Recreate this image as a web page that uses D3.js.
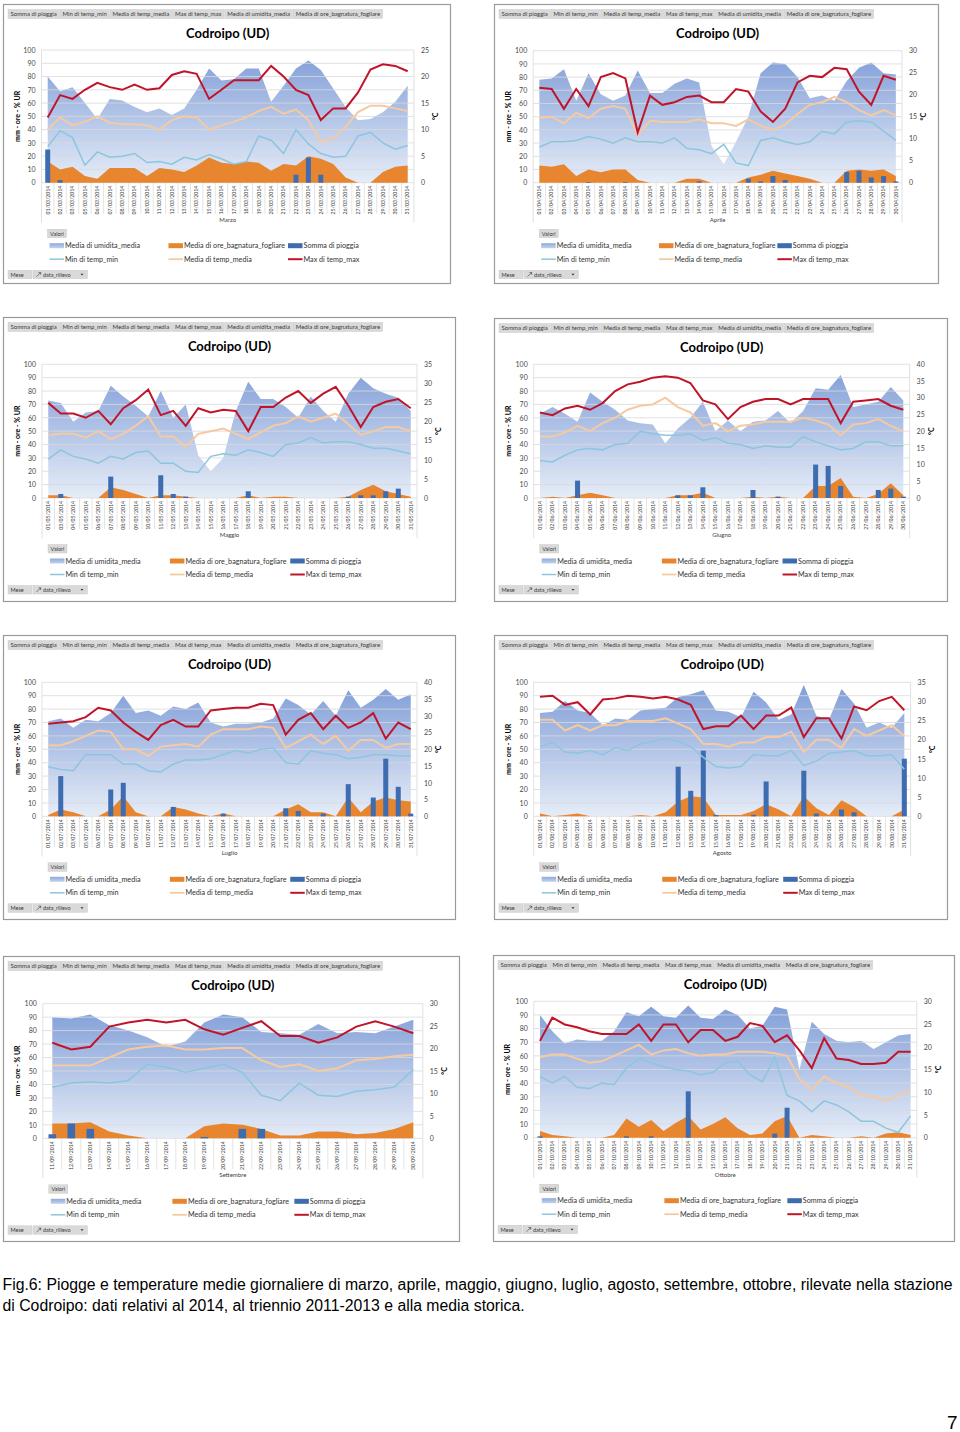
<!DOCTYPE html>
<html><head><meta charset="utf-8">
<script src="https://cdn.jsdelivr.net/npm/d3@7"></script>
<style>
body{margin:0;background:#fff;}
svg{display:block;}
</style></head><body>
<svg id="c" width="960" height="1432"></svg>
<script>
// ---------------- DATA ----------------
const campiPivot = ["Somma di pioggia","Min di temp_min","Media di temp_media","Max di temp_max","Media di umidita_media","Media di ore_bagnatura_fogliare"];
const tickSinistra = [0,10,20,30,40,50,60,70,80,90,100];
const titolo = "Codroipo (UD)";
const titoloAsseSx = "mm - ore - % UR";
const titoloAsseDx = "°C";

// Marzo
const giorniMarzo = ["01","02","03","05","06","07","08","09","10","11","12","13","14","15","16","17","18","19","20","21","22","23","24","25","26","27","28","29","30","31"];
const umiditaMarzo = [80,69,72,60,48,63,62,57,53,56,51,56,70,86,77,78,86,86,61,73,86,92,85,71,57,47,48,53,61,73];
const oreBagnMarzo = [16,10,12,5,3,11,11,11,5,11,10,8,13,19,15,14,16,15,9,14,13,20,18,14,4,0,0,8,12,13];
const pioggiaMarzo = [25,2,0,0,0,0,0,0,0,0,0,0,0,0,0,0,0,0,0,0,6,19,6,0,0,0,0,0,0,0];
const tminMarzo = [6.8,9.8,8.5,3.3,5.8,4.8,5.0,5.5,3.8,4.0,3.5,4.8,4.3,5.3,4.5,3.5,4.0,8.8,8.0,5.5,10.0,7.3,5.5,4.8,5.0,8.8,9.5,7.5,6.3,7.0];
const tmedMarzo = [10.0,12.3,10.8,11.5,12.5,11.3,11.0,11.0,10.8,10.0,11.8,12.5,12.3,10.0,10.8,11.5,12.3,13.5,14.3,13.0,13.8,11.8,7.8,8.3,10.5,13.3,14.5,14.5,14.0,13.5];
const tmaxMarzo = [12.3,16.5,15.8,17.5,18.8,18.0,17.5,18.5,17.5,17.8,20.3,21.0,20.5,15.8,17.5,19.3,19.3,19.3,22.0,20.0,17.5,16.5,11.8,14.0,14.0,17.0,21.3,22.3,22.0,21.0];
const tickDxMarzo = [0,5,10,15,20,25];

// Aprile
const giorniAprile = ["01","02","03","04","05","06","07","08","09","10","11","12","13","14","15","16","17","18","19","20","21","22","23","24","25","26","27","28","29","30"];
const umiditaAprile = [78,79,86,62,83,67,62,66,85,68,68,75,79,76,28,14,31,50,83,91,90,80,64,66,62,77,87,91,83,82];
const oreBagnAprile = [13,12,14,5,10,8,10,10,2,0,0,0,3,3,0,0,0,4,6,9,7,5,3,0,0,9,10,9,10,5];
const pioggiaAprile = [0,0,0,0,0.5,0,0,0.5,0,0,0,0,0,1,0,0,0,3,1,5,2,0,0,0,0,8,9,4,5,1];
const tminAprile = [8.1,9.3,9.3,9.6,10.5,9.9,9.0,10.2,9.3,9.3,9.0,10.2,7.8,7.5,6.6,8.7,4.5,3.9,9.6,10.2,9.3,8.7,9.3,11.7,11.1,13.8,14.1,13.8,11.7,9.6];
const tmedAprile = [14.7,15.0,13.5,15.9,14.7,16.8,17.4,16.8,10.8,14.1,13.8,13.8,13.8,14.4,13.5,13.5,12.9,14.4,12.9,12.0,13.2,15.6,17.7,18.3,19.5,18.3,16.5,15.3,16.5,15.3];
const tmaxAprile = [21.6,21.3,16.8,21.3,17.4,24.0,24.9,23.7,11.4,19.8,17.7,18.3,19.5,19.8,18.3,18.3,21.3,20.7,16.2,13.8,16.8,22.8,24.3,24.0,26.1,25.8,20.7,17.7,24.3,23.4];
const tickDxAprile = [0,5,10,15,20,25,30];

// Maggio
const giorniMaggio = ["01","03","04","05","06","07","08","09","10","11","12","13","14","15","16","17","18","19","20","21","22","23","24","25","26","27","28","29","30","31"];
const umiditaMaggio = [73,71,57,64,65,84,76,69,61,80,60,70,32,20,30,65,87,74,74,68,60,76,65,57,78,90,82,78,75,65];
const oreBagnMaggio = [2,2,0,0,0,8,6,3,0,2,2,1,0,0,0,0,2,0,1,1,0,0,0,0,1,6,10,5,3,1];
const pioggiaMaggio = [0,3,0,0,0,16,0,0,0,17,3,1,0,0,0,0,5,0,0,0,0,0,0,0,1,2,2,5,7,0];
const tminMaggio = [10.2,12.6,10.9,10.2,9.1,10.9,10.2,11.9,12.3,9.1,9.1,7.0,6.7,10.9,11.6,11.2,12.6,11.9,10.9,14.0,14.4,15.8,14.4,14.7,14.7,14.0,13.0,13.0,12.3,11.6];
const tmedMaggio = [16.5,16.8,16.8,15.8,17.5,15.4,16.8,18.9,21.4,16.1,16.1,13.3,16.8,17.5,18.2,16.8,15.4,17.2,18.9,19.6,21.4,20.0,21.0,22.1,19.3,16.5,17.5,18.6,18.6,17.5];
const tmaxMaggio = [24.9,22.1,22.1,21.0,22.8,19.3,23.5,25.6,28.4,21.7,22.8,18.9,23.5,22.4,23.1,22.8,17.5,23.8,23.8,26.3,28.0,24.9,27.3,29.1,24.2,18.6,23.8,25.2,25.9,23.5];
const tickDxMaggio = [0,5,10,15,20,25,30,35];

// Giugno
const giorniGiugno = ["01","02","03","04","05","06","07","08","09","10","11","12","13","14","15","16","17","18","19","20","21","22","23","24","25","26","27","28","29","30"];
const umiditaGiugno = [63,68,63,57,79,72,66,58,56,55,41,52,60,72,50,58,50,57,58,65,56,65,82,81,92,68,70,72,83,73];
const oreBagnGiugno = [0,1,0,2,4,2,0,0,0,0,0,2,2,4,0,0,0,1,0,1,0,0,9,9,15,1,0,3,11,2];
const pioggiaGiugno = [0,0,0,13,0,0,0,0,0,0,0,2,2,8,0,0,0,6,0,1,0,0,25,24,9,0,0,6,7,1];
const tminGiugno = [11.2,10.8,12.8,14.4,14.8,14.4,16.0,16.4,20.0,19.2,18.8,18.8,19.2,17.2,18.0,16.4,16.0,14.8,15.6,15.2,15.2,18.4,16.8,15.6,14.4,14.8,16.8,16.8,15.6,15.6];
const tmedGiugno = [18.4,18.4,19.6,21.6,20.0,22.4,24.0,26.4,27.6,28.0,30.0,27.2,25.6,21.6,22.4,20.0,21.6,22.0,22.8,22.8,22.8,24.0,23.2,22.0,18.8,22.0,22.4,23.6,21.6,20.0];
const tmaxGiugno = [25.6,24.8,26.8,27.6,26.4,28.4,32.0,34.0,34.8,36.0,36.4,36.0,34.4,29.2,28.0,23.6,27.2,28.8,29.6,29.6,28.0,29.6,29.6,29.6,22.4,28.8,29.2,29.6,27.6,26.4];
const tickDxGiugno = [0,5,10,15,20,25,30,35,40];

// Luglio
const giorniLuglio = ["01","02","03","05","06","07","08","09","10","11","12","13","14","15","16","17","18","19","20","21","22","23","24","25","26","27","28","29","30","31"];
const umiditaLuglio = [71,73,66,72,71,77,90,77,79,75,82,80,85,70,67,69,69,70,73,88,83,76,86,75,94,81,87,95,87,91];
const oreBagnLuglio = [1,5,3,0,0,5,15,3,0,0,7,5,2,0,2,0,0,0,0,5,9,3,3,0,14,3,11,14,12,11];
const pioggiaLuglio = [0,30,0,0,0,20,25,0,0,0,7,0,0,0,2,0,0,0,0,6,4,0,2,0,24,0,14,43,22,2];
const tminLuglio = [14.8,14.0,13.6,18.4,18.4,18.4,15.6,15.6,13.6,13.2,15.6,16.8,16.8,17.2,18.4,19.6,18.8,20.0,20.4,16.0,15.6,19.6,18.8,18.4,17.2,17.6,18.4,18.4,18.0,18.0];
const tmedLuglio = [21.2,21.2,22.4,24.0,25.6,25.2,20.0,20.0,18.0,20.8,21.2,21.6,20.8,24.4,26.0,26.0,26.0,26.8,26.4,20.4,22.4,24.4,21.6,24.0,19.6,22.8,22.8,20.4,21.6,21.6];
const tmaxLuglio = [27.6,28.0,28.4,29.6,32.4,31.6,28.0,25.2,22.8,27.2,28.8,26.8,26.8,31.6,32.0,32.4,32.4,33.6,33.2,24.4,28.8,30.8,26.0,30.0,26.4,28.0,30.8,23.2,28.0,26.0];
const tickDxLuglio = [0,5,10,15,20,25,30,35,40];

// Agosto
const giorniAgosto = ["01","02","03","04","05","06","07","08","09","10","11","12","13","14","15","16","17","19","20","21","22","23","24","25","26","27","28","29","30","31"];
const umiditaAgosto = [77,78,86,79,77,68,73,72,79,80,81,89,91,94,79,78,74,93,85,72,76,98,75,72,95,84,66,70,66,77];
const oreBagnAgosto = [2,0,1,2,0,0,0,0,1,0,3,11,15,14,1,1,1,4,9,5,0,15,6,1,12,7,0,0,0,5];
const pioggiaAgosto = [0,0,0,0,0,0,0,0,0,0,0,37,19,49,1,0,0,1,26,0,0,34,2,0,5,3,0,0,0,43];
const tminAgosto = [18.2,19.3,16.8,16.5,17.2,16.1,17.9,17.2,18.9,19.6,20.3,19.6,18.2,15.4,13.0,12.6,13.0,16.1,15.8,15.8,17.2,13.3,14.4,16.5,16.8,17.2,15.8,15.8,16.1,12.3];
const tmedAgosto = [25.2,25.2,22.4,23.8,22.4,23.8,23.8,24.9,24.9,24.9,25.6,24.2,22.8,18.9,18.9,18.2,19.3,19.3,20.7,20.7,22.1,16.8,20.0,20.0,17.9,22.8,21.0,22.4,23.8,21.0];
const tmaxAgosto = [31.2,31.5,29.1,29.8,26.6,30.5,30.8,31.5,31.2,30.8,31.2,30.5,29.1,22.8,23.5,23.5,26.3,22.8,26.3,26.3,28.4,20.7,25.6,25.6,20.3,28.7,27.7,30.1,31.2,27.7];
const tickDxAgosto = [0,5,10,15,20,25,30,35];

// Settembre
const giorniSettembre = ["11","12","13","14","15","16","17","18","19","20","21","22","23","24","25","26","27","28","29","30"];
const umiditaSettembre = [90,89,92,84,80,75,68,72,86,92,90,79,78,77,85,78,79,78,83,88];
const oreBagnSettembre = [11,11,12,5,2,0,0,0,9,11,10,7,2,2,5,5,3,4,7,12];
const pioggiaSettembre = [3,11,7,0,0,0,0,0,1,0,7,7,0,0,0,0,0,0,0,0];
const tminSettembre = [11.4,12.3,12.6,12.3,12.9,16.5,15.9,14.7,15.6,16.5,14.7,9.6,8.4,12.3,9.6,9.3,10.5,10.8,11.4,15.3];
const tmedSettembre = [16.2,16.2,16.2,18.0,19.8,20.4,20.7,19.8,19.8,20.1,20.1,17.4,15.9,16.5,15.0,15.6,17.4,17.7,18.3,18.6];
const tmaxSettembre = [21.3,19.8,20.4,24.9,25.8,26.4,25.8,26.4,24.3,23.1,24.6,26.1,22.8,22.8,21.3,22.5,24.9,26.1,24.9,23.4];
const tickDxSettembre = [0,5,10,15,20,25,30];

// Ottobre
const giorniOttobre = ["01","02","03","04","05","06","07","08","09","10","11","12","13","14","15","16","17","18","19","20","21","22","23","24","25","26","27","28","29","30","31"];
const umiditaOttobre = [90,78,69,72,71,71,78,92,89,96,89,88,97,88,87,94,90,80,82,96,94,50,85,76,71,70,71,65,70,75,76];
const oreBagnOttobre = [5,2,1,0,0,0,2,14,8,13,5,11,16,6,10,15,7,2,3,12,16,0,2,1,0,0,1,0,3,4,2];
const pioggiaOttobre = [1,0,0,0,0,0,0,1,0,1,0,0,34,0,0,0,0,0,0,3,22,0,0,0,0,0,0,0,0,0,0];
const tminOttobre = [13.5,12.0,13.5,11.1,10.8,12.0,11.7,15.3,17.4,16.5,15.6,15.0,14.7,13.8,14.4,16.5,16.8,13.8,12.3,17.7,9.3,8.1,5.7,8.1,7.2,5.7,3.6,3.6,2.1,1.2,4.8];
const tmedOttobre = [17.7,18.3,18.3,17.4,16.5,16.8,18.0,19.2,20.4,18.3,19.2,19.5,18.6,18.0,18.3,18.3,18.9,18.9,18.9,18.6,18.0,12.9,10.5,13.5,12.0,11.1,9.3,9.0,8.1,9.3,10.5];
const tmaxOttobre = [21.3,26.4,24.9,24.3,23.4,22.8,22.8,22.8,24.9,21.3,24.9,24.9,21.0,23.7,23.7,21.3,22.2,25.2,24.6,21.0,22.5,19.2,15.3,21.9,17.4,17.1,16.2,16.2,16.5,18.9,18.9];
const tickDxOttobre = [0,5,10,15,20,25,30];

const didascalia1 = "Fig.6: Piogge e temperature medie giornaliere di marzo, aprile, maggio, giugno, luglio, agosto, settembre, ottobre, rilevate nella stazione";
const didascalia2 = "di Codroipo: dati relativi al 2014, al triennio 2011-2013 e alla media storica.";
const numeroPagina = "7";

// ---------------- BUILD ----------------
const mesi = [
  {nome:"Marzo", mm:"03", g:giorniMarzo, um:umiditaMarzo, ore:oreBagnMarzo, pio:pioggiaMarzo, tmin:tminMarzo, tmed:tmedMarzo, tmax:tmaxMarzo, tr:tickDxMarzo},
  {nome:"Aprile", mm:"04", g:giorniAprile, um:umiditaAprile, ore:oreBagnAprile, pio:pioggiaAprile, tmin:tminAprile, tmed:tmedAprile, tmax:tmaxAprile, tr:tickDxAprile},
  {nome:"Maggio", mm:"05", g:giorniMaggio, um:umiditaMaggio, ore:oreBagnMaggio, pio:pioggiaMaggio, tmin:tminMaggio, tmed:tmedMaggio, tmax:tmaxMaggio, tr:tickDxMaggio},
  {nome:"Giugno", mm:"06", g:giorniGiugno, um:umiditaGiugno, ore:oreBagnGiugno, pio:pioggiaGiugno, tmin:tminGiugno, tmed:tmedGiugno, tmax:tmaxGiugno, tr:tickDxGiugno},
  {nome:"Luglio", mm:"07", g:giorniLuglio, um:umiditaLuglio, ore:oreBagnLuglio, pio:pioggiaLuglio, tmin:tminLuglio, tmed:tmedLuglio, tmax:tmaxLuglio, tr:tickDxLuglio},
  {nome:"Agosto", mm:"08", g:giorniAgosto, um:umiditaAgosto, ore:oreBagnAgosto, pio:pioggiaAgosto, tmin:tminAgosto, tmed:tmedAgosto, tmax:tmaxAgosto, tr:tickDxAgosto},
  {nome:"Settembre", mm:"09", g:giorniSettembre, um:umiditaSettembre, ore:oreBagnSettembre, pio:pioggiaSettembre, tmin:tminSettembre, tmed:tmedSettembre, tmax:tmaxSettembre, tr:tickDxSettembre},
  {nome:"Ottobre", mm:"10", g:giorniOttobre, um:umiditaOttobre, ore:oreBagnOttobre, pio:pioggiaOttobre, tmin:tminOttobre, tmed:tmedOttobre, tmax:tmaxOttobre, tr:tickDxOttobre}
];

// layout: panel box and plot area (page px)
const layout = [
  {x:3,y:4,w:447,h:279, pl:41.5,pr:413.9,pt:50,pb:182.7},
  {x:494,y:4,w:444,h:279, pl:533.2,pr:902,pt:50.7,pb:182.7},
  {x:3,y:317,w:452,h:284, pl:42,pr:417,pt:364.3,pb:498},
  {x:494,y:318,w:453,h:283, pl:533.7,pr:909.6,pt:364.3,pb:498},
  {x:3,y:635,w:452,h:284, pl:42,pr:417,pt:682.3,pb:816.3},
  {x:494,y:635,w:453,h:284, pl:533.7,pr:910.6,pt:682.3,pb:816.3},
  {x:3,y:956,w:456,h:285, pl:42.8,pr:422.8,pt:1003.7,pb:1138.3},
  {x:493,y:955,w:461,h:286, pl:533.8,pr:916.8,pt:1001.3,pb:1137.7}
];

const FONT = "Lato, 'Open Sans', sans-serif";
const C = {
  umTop:"#7e9cd7", umBot:"#e6edf8",
  ore:"#e8852f", pio:"#3d6cb0",
  tmin:"#8cc6de", tmed:"#f6c9a0", tmax:"#c0142a",
  grid:"#d9d9d9", txt:"#404040", btn:"#d9d9d9", btnStroke:"#c4c4c4"
};

const svg = d3.select("#c");
const defs = svg.append("defs");

function drawPanel(m, L, i) {
  const g = svg.append("g");
  // frame
  g.append("rect").attr("x",L.x+0.5).attr("y",L.y+0.5).attr("width",L.w).attr("height",L.h)
    .attr("fill","#fff").attr("stroke","#9a9a9a").attr("stroke-width",1.2);

  // pivot field buttons
  let bx = L.x+5;
  campiPivot.forEach(t => {
    const r = g.append("rect");
    const tx = g.append("text").attr("x",bx+2.5).attr("y",L.y+12.4).text(t)
      .style("font-family",FONT).style("font-size","6px").attr("fill","#3a3a3a");
    const tw = tx.node().getComputedTextLength();
    r.attr("x",bx).attr("y",L.y+5.5).attr("width",tw+5).attr("height",9)
      .attr("fill",C.btn).attr("stroke",C.btnStroke).attr("stroke-width",0.4);
    bx += tw+5.8;
  });

  const labels = m.g.map(d => `${d}/${m.mm}/2014`);
  const x = d3.scaleBand().domain(labels).range([L.pl, L.pr]).padding(0);
  const cx = (d,j) => x(labels[j]) + x.bandwidth()/2;
  const yL = d3.scaleLinear().domain([0,100]).range([L.pb, L.pt]);
  const rmax = m.tr[m.tr.length-1];
  const yR = d3.scaleLinear().domain([0,rmax]).range([L.pb, L.pt]);

  // gradient
  const gid = "um"+i;
  const lg = defs.append("linearGradient").attr("id",gid).attr("gradientUnits","userSpaceOnUse")
    .attr("x1",0).attr("x2",0).attr("y1",L.pt).attr("y2",L.pb);
  lg.append("stop").attr("offset","0%").attr("stop-color",C.umTop);
  lg.append("stop").attr("offset","100%").attr("stop-color",C.umBot);

  // title
  g.append("text").attr("x",(L.pl+L.pr)/2).attr("y",L.y+34).attr("text-anchor","middle")
    .text(titolo).style("font-family",FONT).style("font-size","13px").style("font-weight","700").attr("fill","#000");

  // humidity area
  g.append("path")
    .attr("d", d3.area().x((d,j)=>cx(d,j)).y0(yL(0)).y1(d=>yL(d))(m.um))
    .attr("fill",`url(#${gid})`);

  // gridlines
  g.append("g").selectAll("line").data(tickSinistra).join("line")
    .attr("x1",L.pl).attr("x2",L.pr).attr("y1",d=>yL(d)).attr("y2",d=>yL(d))
    .attr("stroke",C.grid).attr("stroke-width",0.8);
  // plot side lines and category separators
  g.append("line").attr("x1",L.pl).attr("x2",L.pl).attr("y1",L.pt).attr("y2",L.pb+40).attr("stroke",C.grid).attr("stroke-width",0.8);
  g.append("line").attr("x1",L.pr).attr("x2",L.pr).attr("y1",L.pt).attr("y2",L.pb+40).attr("stroke",C.grid).attr("stroke-width",0.8);
  g.append("g").selectAll("line").data(labels.slice(1)).join("line")
    .attr("x1",d=>x(d)).attr("x2",d=>x(d)).attr("y1",L.pb).attr("y2",L.pb+31)
    .attr("stroke",C.grid).attr("stroke-width",0.7);

  // ore bagnatura area
  g.append("path")
    .attr("d", d3.area().x((d,j)=>cx(d,j)).y0(yL(0)).y1(d=>yL(d))(m.ore))
    .attr("fill",C.ore);

  // rain bars
  const bw = x.bandwidth()*0.4;
  g.append("g").selectAll("rect").data(m.pio).join("rect")
    .attr("x",(d,j)=>cx(d,j)-bw/2).attr("width",bw)
    .attr("y",d=>yL(d)).attr("height",d=>yL(0)-yL(d))
    .attr("fill",C.pio);

  // temperature lines
  const ln = d3.line().x((d,j)=>cx(d,j)).y(d=>yR(d));
  g.append("path").attr("d",ln(m.tmin)).attr("fill","none").attr("stroke",C.tmin).attr("stroke-width",1.5);
  g.append("path").attr("d",ln(m.tmed)).attr("fill","none").attr("stroke",C.tmed).attr("stroke-width",2);
  g.append("path").attr("d",ln(m.tmax)).attr("fill","none").attr("stroke",C.tmax).attr("stroke-width",2);

  // axes
  const ax = g.append("g").attr("transform",`translate(${L.pl},0)`)
    .call(d3.axisLeft(yL).tickValues(tickSinistra).tickSize(0).tickPadding(6));
  const axr = g.append("g").attr("transform",`translate(${L.pr},0)`)
    .call(d3.axisRight(yR).tickValues(m.tr).tickSize(0).tickPadding(7));
  [ax,axr].forEach(a => {
    a.select(".domain").remove();
    a.selectAll("text").style("font-family",FONT).style("font-size","7px").attr("fill","#4a4a4a");
  });

  // x labels
  g.append("g").selectAll("text").data(labels).join("text")
    .attr("transform",(d,j)=>`translate(${cx(d,j)+1.8},${L.pb+3}) rotate(-90)`)
    .attr("text-anchor","end").text(d=>d)
    .style("font-family",FONT).style("font-size","5.2px").attr("fill",C.txt);

  // month label
  g.append("text").attr("x",(L.pl+L.pr)/2).attr("y",L.pb+39).attr("text-anchor","middle")
    .text(m.nome).style("font-family",FONT).style("font-size","6px").attr("fill",C.txt);

  // axis titles
  const midY = (L.pt+L.pb)/2;
  g.append("text").attr("transform",`translate(${L.x+17},${midY}) rotate(-90)`).attr("text-anchor","middle")
    .text(titoloAsseSx).style("font-family",FONT).style("font-size","7px").style("font-weight","700").attr("fill","#000");
  g.append("text").attr("transform",`translate(${L.pr+24},${midY}) rotate(-90)`).attr("text-anchor","middle")
    .text(titoloAsseDx).style("font-family",FONT).style("font-size","7px").style("font-weight","700").attr("fill","#000");

  // Valori button
  g.append("rect").attr("x",L.pl+6).attr("y",L.pb+46.5).attr("width",19).attr("height",8.5)
    .attr("fill",C.btn).attr("stroke",C.btnStroke).attr("stroke-width",0.4);
  g.append("text").attr("x",L.pl+15.5).attr("y",L.pb+52.8).attr("text-anchor","middle").text("Valori")
    .style("font-family",FONT).style("font-size","5.5px").attr("fill","#3a3a3a");

  // legend
  const W = L.pr - L.pl;
  const cols = [L.pl+8, L.pl+0.341*W, L.pl+0.662*W];
  const r1 = L.pb+63, r2 = L.pb+76.5;
  const lgid = "lum"+i;
  const lgg = defs.append("linearGradient").attr("id",lgid).attr("x1",0).attr("x2",0).attr("y1",0).attr("y2",1);
  lgg.append("stop").attr("offset","0%").attr("stop-color","#8eaadc");
  lgg.append("stop").attr("offset","100%").attr("stop-color","#c3d3ee");
  const items = [
    {t:"Media di umidita_media", kind:"rect", fill:`url(#${lgid})`, col:0, row:r1},
    {t:"Media di ore_bagnatura_fogliare", kind:"rect", fill:C.ore, col:1, row:r1},
    {t:"Somma di pioggia", kind:"rect", fill:C.pio, col:2, row:r1},
    {t:"Min di temp_min", kind:"line", stroke:C.tmin, sw:1.5, col:0, row:r2},
    {t:"Media di temp_media", kind:"line", stroke:C.tmed, sw:1.8, col:1, row:r2},
    {t:"Max di temp_max", kind:"line", stroke:C.tmax, sw:2, col:2, row:r2}
  ];
  items.forEach(it => {
    const sx = cols[it.col];
    if (it.kind==="rect") {
      g.append("rect").attr("x",sx).attr("y",it.row-2.5).attr("width",14.5).attr("height",5).attr("fill",it.fill);
    } else {
      g.append("line").attr("x1",sx).attr("x2",sx+14.5).attr("y1",it.row).attr("y2",it.row)
        .attr("stroke",it.stroke).attr("stroke-width",it.sw);
    }
    g.append("text").attr("x",sx+15.5).attr("y",it.row).attr("dy","0.35em").text(it.t)
      .style("font-family",FONT).style("font-size","7.2px").attr("fill","#333");
  });

  // Mese / data_rilievo buttons
  const by = L.pb+87.5;
  g.append("rect").attr("x",L.x+5).attr("y",by).attr("width",24).attr("height",8.5)
    .attr("fill",C.btn).attr("stroke",C.btnStroke).attr("stroke-width",0.4);
  g.append("text").attr("x",L.x+7.5).attr("y",by+6.3).text("Mese")
    .style("font-family",FONT).style("font-size","5.5px").attr("fill","#3a3a3a");
  g.append("rect").attr("x",L.x+30).attr("y",by).attr("width",54.5).attr("height",8.5)
    .attr("fill",C.btn).attr("stroke",C.btnStroke).attr("stroke-width",0.4);
  g.append("path").attr("d",`M${L.x+33.5},${by+6.5} L${L.x+37.5},${by+2.5} M${L.x+35.5},${by+2.3} L${L.x+37.7},${by+2.3} L${L.x+37.7},${by+4.5}`)
    .attr("stroke","#333").attr("stroke-width",0.6).attr("fill","none");
  g.append("text").attr("x",L.x+40).attr("y",by+6.3).text("data_rilievo")
    .style("font-family",FONT).style("font-size","5.5px").attr("fill","#3a3a3a");
  g.append("path").attr("d",`M${L.x+77.5},${by+3.5} L${L.x+80.5},${by+3.5} L${L.x+79},${by+5.3} Z`).attr("fill","#333");
}

mesi.forEach((m,i) => drawPanel(m, layout[i], i));

// caption
svg.append("text").attr("x",2.5).attr("y",1290).text(didascalia1)
  .style("font-family","'Liberation Sans', Arial, sans-serif").style("font-size","15.8px").attr("fill","#000");
svg.append("text").attr("x",2.5).attr("y",1310.5).text(didascalia2)
  .style("font-family","'Liberation Sans', Arial, sans-serif").style("font-size","15.8px").attr("fill","#000");
svg.append("text").attr("x",957.5).attr("y",1429).attr("text-anchor","end").text(numeroPagina)
  .style("font-family","'Liberation Sans', Arial, sans-serif").style("font-size","19px").attr("fill","#000");
</script>
</body></html>
